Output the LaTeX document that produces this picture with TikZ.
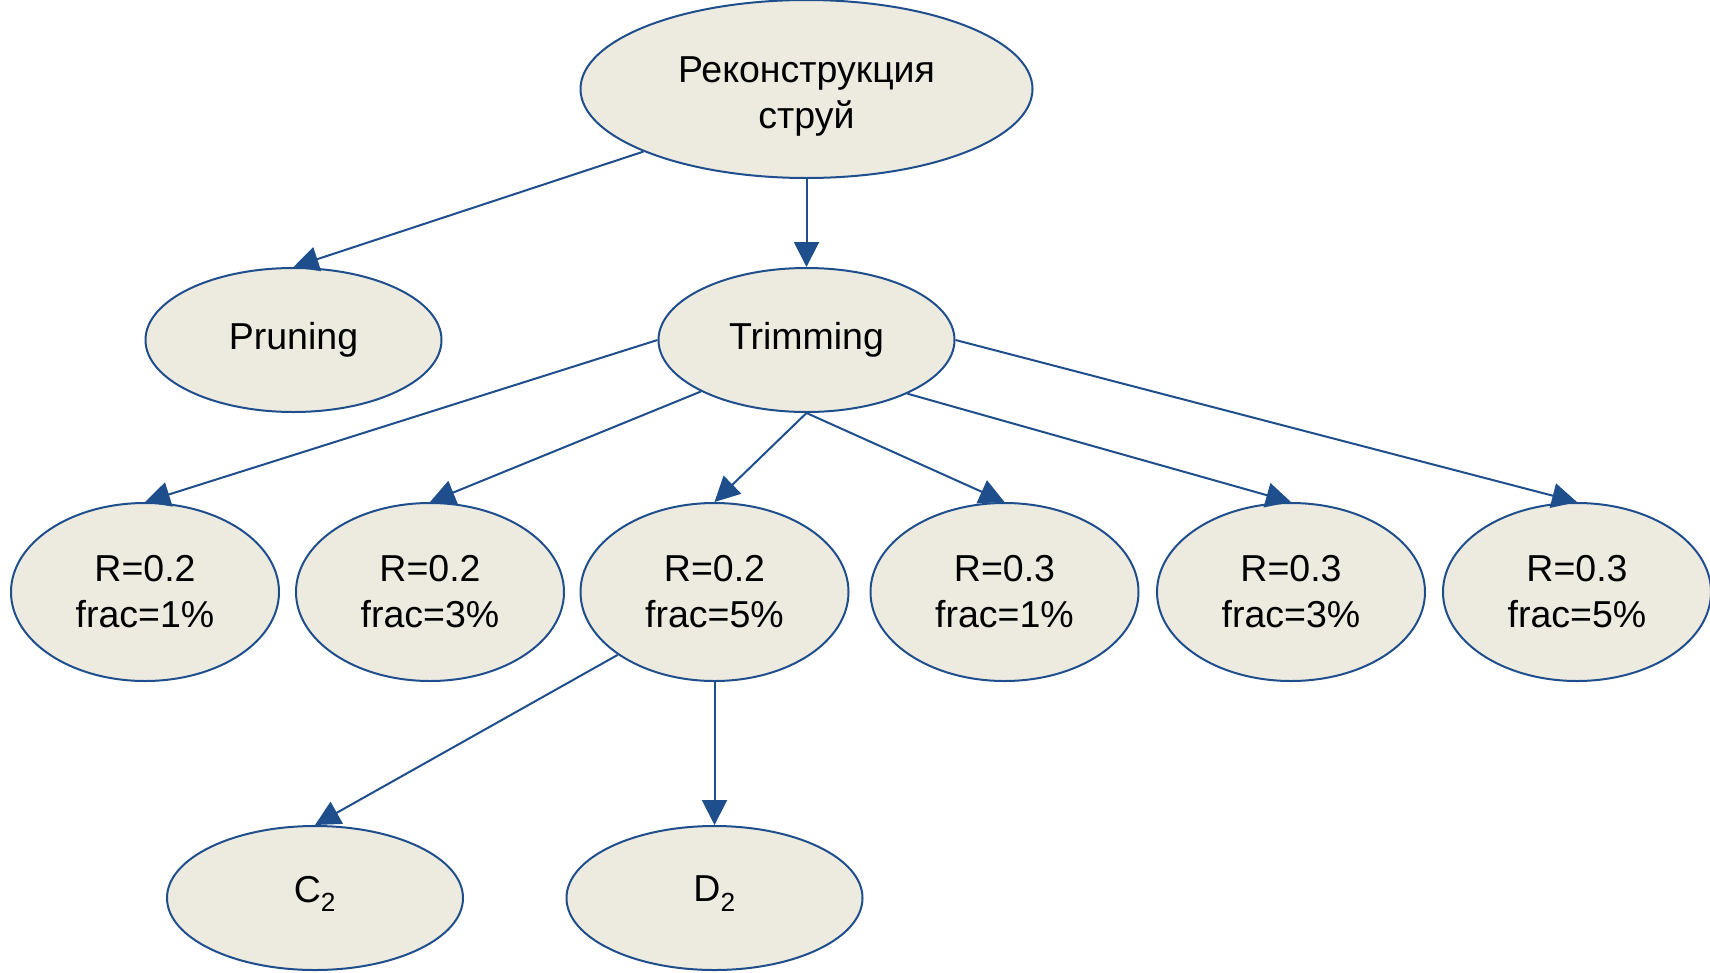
\documentclass[tikz,border=0pt]{standalone}
\usepackage{fontspec}
\setmainfont{Liberation Sans}
\usetikzlibrary{shapes.geometric,arrows.meta}
\definecolor{edgeblue}{HTML}{1F4E8C}
\definecolor{nodefill}{HTML}{EDEBE0}
\begin{document}
\begin{tikzpicture}[x=1pt,y=-1pt,
  bub/.style={ellipse,draw=edgeblue,fill=nodefill,line width=2pt,inner sep=0pt,
    font=\fontsize{37.5}{46}\selectfont,align=center},
  big/.style={bub,minimum width=452pt,minimum height=178pt},
  mid/.style={bub,minimum width=296pt,minimum height=144pt},
  par/.style={bub,minimum width=268pt,minimum height=178pt},
  conn/.style={draw=edgeblue,line width=2pt,-{Triangle[length=25pt,width=25pt]}}]
\useasboundingbox (0,0) rectangle (1710,972);
\node[big] (top) at (806.5,89) {\rule{0pt}{40pt}Реконструкция\\струй};
\node[mid] (prun) at (293.5,340) {Pruning};
\node[mid] (trim) at (806.5,340) {Trimming};
\node[par] (r1) at (145,592) {R=0.2\\frac=1\%};
\node[par] (r2) at (430,592) {R=0.2\\frac=3\%};
\node[par] (r3) at (714.5,592) {R=0.2\\frac=5\%};
\node[par] (r4) at (1004.5,592) {R=0.3\\frac=1\%};
\node[par] (r5) at (1291,592) {R=0.3\\frac=3\%};
\node[par] (r6) at (1577,592) {R=0.3\\frac=5\%};
\node[mid] (c2) at (315,898) {C\smash{\textsubscript{2}}\rule[-18pt]{0pt}{18pt}};
\node[mid] (d2) at (714.5,898) {D\smash{\textsubscript{2}}\rule[-18pt]{0pt}{18pt}};
\draw[conn] (top.201.8) -- (prun.north);
\draw[conn] (top.south) -- (trim.north);
\draw[conn] (trim.west) -- (r1.north);
\draw[conn] (trim.206.5) -- (r2.north);
\draw[conn] (trim.south) -- (r3.north);
\draw[conn] (trim.south) -- (r4.north);
\draw[conn] (trim.332.9) -- (r5.north);
\draw[conn] (trim.east) -- (r6.north);
\draw[conn] (r3.213.4) -- (c2.north);
\draw[conn] (r3.south) -- (d2.north);
\end{tikzpicture}
\end{document}
